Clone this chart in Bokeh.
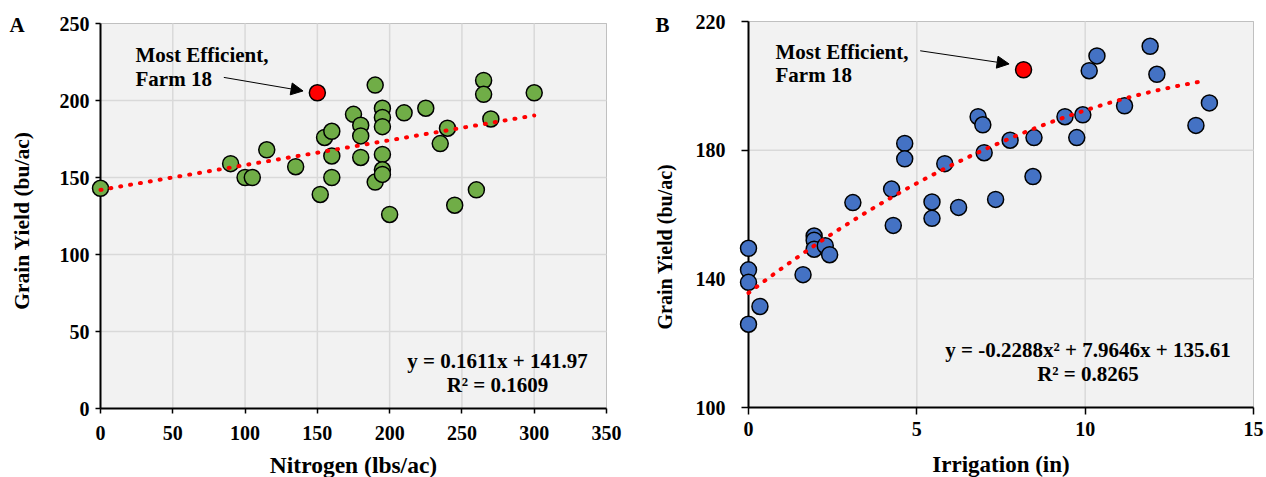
from bokeh.plotting import figure
from bokeh.layouts import row
from bokeh.models import Label, Arrow, NormalHead, FixedTicker, Range1d, BoxAnnotation
from bokeh.embed import file_html
from bokeh.resources import INLINE
import numpy as np

# ---------------- data: panel A ----------------
nitrogen = [0, 90, 100, 105, 115, 135, 152, 155, 160, 160, 160, 175, 180, 180, 180,
            190, 190, 195, 195, 195, 195, 195, 195, 200, 210, 225, 235, 240, 245,
            260, 265, 265, 270, 300]
yield_a = [143, 159, 150, 150, 168, 157, 139, 176, 180, 164, 150, 191, 184, 177, 163,
           210, 147, 195, 189, 183, 165, 155, 152, 126, 192, 195, 172, 182, 132,
           142, 213, 204, 188, 205]
eff_nitrogen = [150]
eff_yield_a = [205]
lin_coef = [0.1611, 141.97]
lin_xrange = [0, 300]
eq_a = ["y = 0.1611x + 141.97", "R\u00b2 = 0.1609"]
xticks_a = [0, 50, 100, 150, 200, 250, 300, 350]
yticks_a = [0, 50, 100, 150, 200, 250]

# ---------------- data: panel B ----------------
irrigation = [0, 0, 0, 0.34, 0, 1.62, 1.95, 1.95, 1.95, 2.28, 2.41, 3.1, 4.25, 4.3,
              4.64, 4.64, 5.45, 5.45, 5.83, 6.24, 6.82, 6.96, 7.0, 7.34, 7.77, 8.45,
              8.48, 9.40, 9.75, 9.93, 10.12, 10.35, 11.17, 11.93, 12.13, 13.29, 13.69]
yield_b = [149.5, 142.8, 138.9, 131.4, 125.9, 141.3, 153.3, 152.0, 149.2, 150.3, 147.5,
           163.7, 167.9, 156.6, 182.1, 177.3, 163.9, 158.8, 175.8, 162.2, 190.4, 187.9,
           179.2, 164.7, 183.1, 171.8, 183.9, 190.4, 183.9, 191.0, 204.7, 209.3, 193.8,
           212.3, 203.6, 187.7, 194.7]
eff_irr = [8.17]
eff_yield_b = [205]
quad_coef = [-0.2288, 7.9646, 135.61]
quad_xrange = [0, 13.6]
eq_b = ["y = -0.2288x\u00b2 + 7.9646x + 135.61", "R\u00b2 = 0.8265"]
xticks_b = [0, 5, 10, 15]
yticks_b = [100, 140, 180, 220]

FONT = "Liberation Serif"
BASE_SHIFT = 0.29  # em: lift applied so that the glyph baseline lands on the target


class Panel:
    """Figure whose frame is the whole canvas; the plot box sits at given pixels."""

    def __init__(self, width, height, box, xr, yr, xt, yt, tick_out, xso, yso):
        self.W, self.H = width, height
        self.L, self.R, self.T, self.B = box
        self.xr, self.yr = xr, yr
        self.kx = (xr[1] - xr[0]) / (self.R - self.L)
        self.ky = (yr[1] - yr[0]) / (self.B - self.T)
        x_range = Range1d(xr[0] - self.L * self.kx, xr[1] + (width - self.R) * self.kx)
        y_range = Range1d(yr[0] - (height - self.B) * self.ky, yr[1] + self.T * self.ky)
        p = figure(width=width, height=height, x_range=x_range, y_range=y_range,
                   min_border_left=0, min_border_right=0, min_border_top=0,
                   min_border_bottom=0, output_backend="svg", toolbar_location=None,
                   background_fill_color="white", border_fill_color="white")
        p.outline_line_color = None
        p.xgrid.visible = False
        p.ygrid.visible = False
        # plot area
        p.add_layout(BoxAnnotation(left=xr[0], right=xr[1], bottom=yr[0], top=yr[1],
                                   fill_color="#F2F2F2", fill_alpha=1,
                                   line_color="#404040", line_width=1, level="image"))
        # grid lines at the inner ticks
        gx = xt[1:-1]
        gy = yt[1:-1]
        p.segment(x0=gx, y0=[yr[0]] * len(gx), x1=gx, y1=[yr[1]] * len(gx),
                  line_color="#D9D9D9", line_width=1.5, level="underlay")
        p.segment(x0=[xr[0]] * len(gy), y0=gy, x1=[xr[1]] * len(gy), y1=gy,
                  line_color="#D9D9D9", line_width=1.5, level="underlay")
        p.xaxis.ticker = FixedTicker(ticks=xt)
        p.yaxis.ticker = FixedTicker(ticks=yt)
        p.xaxis.fixed_location = yr[0]
        p.yaxis.fixed_location = xr[0]
        p.xaxis.bounds = xr
        p.yaxis.bounds = yr
        for ax in (p.xaxis, p.yaxis):
            ax.level = "underlay"
            ax.axis_line_color = "black"
            ax.axis_line_width = 2
            ax.major_tick_line_color = "black"
            ax.major_tick_line_width = 1.5
            ax.major_tick_in = 0
            ax.major_tick_out = tick_out
            ax.minor_tick_line_color = None
            ax.major_label_text_font = FONT
            ax.major_label_text_font_style = "bold"
            ax.major_label_text_font_size = "20px"
            ax.major_label_text_color = "black"
        p.xaxis.major_label_standoff = xso
        p.yaxis.major_label_standoff = yso
        self.p = p

    def dx(self, px):
        return self.xr[0] + (px - self.L) * self.kx

    def dy(self, py):
        return self.yr[0] + (self.B - py) * self.ky

    def text(self, px, py, text, align="left", size=21, angle=0):
        lift = BASE_SHIFT * size
        if angle == 90:
            px -= lift
        else:
            py -= lift
        self.p.add_layout(Label(x=self.dx(px), y=self.dy(py), text=text, angle=angle,
                                angle_units="deg", text_font=FONT,
                                text_font_style="bold", text_font_size=f"{size}px",
                                text_color="black", text_align=align,
                                text_baseline="alphabetic"))


# ---------------- Panel A ----------------
A = Panel(640, 477, (100, 606, 23, 408), (0, 350), (0, 250), xticks_a, yticks_a,
          5, 12, 6)
pa = A.p
pa.scatter(nitrogen, yield_a, size=16, fill_color="#70AD47", line_color="black",
           line_width=1.5)
lx = np.array(lin_xrange, dtype=float)
pa.line(lx, lin_coef[0] * lx + lin_coef[1], line_color="#FF0000", line_width=4,
        line_dash="1 9", line_cap="round")
pa.scatter(eff_nitrogen, eff_yield_a, size=16, fill_color="#FF0000", line_color="black",
           line_width=1.5)
A.text(135, 61, "Most Efficient,")
A.text(135, 85, "Farm 18")
pa.add_layout(Arrow(end=NormalHead(size=12, fill_color="black", line_color="black"),
                    x_start=85.3, y_start=215.0, x_end=140.1, y_end=206.2,
                    line_color="black", line_width=1))
A.text(497, 366.7, eq_a[0], align="center")
A.text(497, 391, eq_a[1], align="center")
A.text(9, 31, "A", size=21)
A.text(353, 471.5, "Nitrogen (lbs/ac)", align="center", size=23.5)
A.text(28, 220, "Grain Yield (bu/ac)", align="center", size=21.5, angle=90)

# ---------------- Panel B ----------------
B = Panel(626, 477, (108, 613, 21, 407), (0, 15), (100, 220), xticks_b, yticks_b,
          7, 7, 16)
pb = B.p
pb.scatter(irrigation, yield_b, size=16, fill_color="#4472C4", line_color="black",
           line_width=1.5)
qx = np.linspace(quad_xrange[0], quad_xrange[1], 80)
qy = quad_coef[0] * qx ** 2 + quad_coef[1] * qx + quad_coef[2]
pb.line(qx, qy, line_color="#FF0000", line_width=4, line_dash="1 9", line_cap="round")
pb.scatter(eff_irr, eff_yield_b, size=16, fill_color="#FF0000", line_color="black",
           line_width=1.5)
B.text(775 - 640, 57.3, "Most Efficient,")
B.text(775 - 640, 81, "Farm 18")
pb.add_layout(Arrow(end=NormalHead(size=12, fill_color="black", line_color="black"),
                    x_start=5.10, y_start=210.9, x_end=7.74, y_end=206.8,
                    line_color="black", line_width=1))
B.text(1087.5 - 640, 356, eq_b[0], align="center")
B.text(1087.5 - 640, 380, eq_b[1], align="center")
B.text(655 - 640, 31, "B", size=21)
B.text(1000.5 - 640, 471, "Irrigation (in)", align="center", size=23)
B.text(670.5 - 640, 246, "Grain Yield (bu/ac)", align="center", size=20, angle=90)

layout = row(pa, pb)
open("out.html", "w").write(file_html(layout, INLINE))
